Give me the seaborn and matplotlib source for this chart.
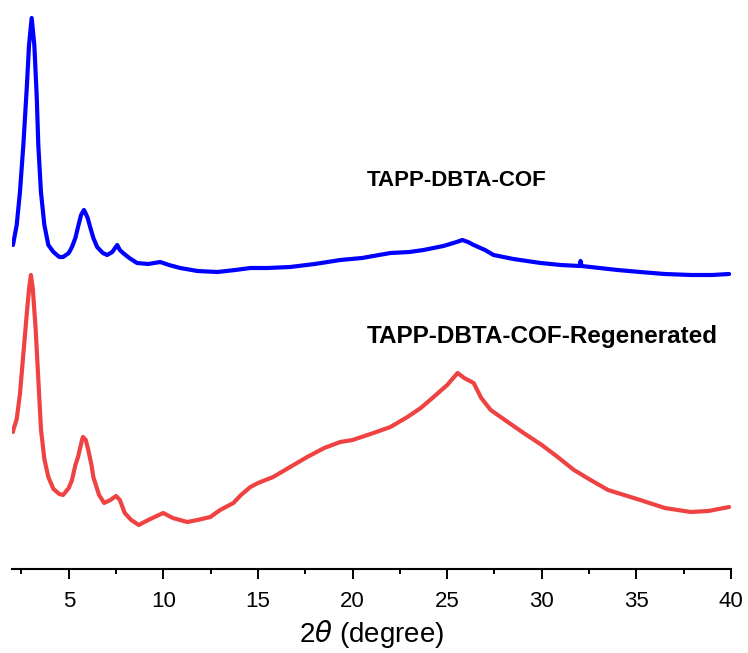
import matplotlib
matplotlib.use("Agg")
import matplotlib.pyplot as plt
import seaborn as sns
import pandas as pd

# 2-theta positions (degree) and intensities (a.u.) of the pristine COF
two_theta_cof = [2.05, 2.07, 2.25, 2.42, 2.60, 2.78, 2.90, 3.04, 3.18, 3.31, 3.39,
                 3.53, 3.71, 3.92, 4.19, 4.5, 4.7, 5.0, 5.17, 5.35, 5.49,
                 5.65, 5.8, 5.86, 6.0, 6.13, 6.3, 6.5, 6.8, 7.03, 7.3, 7.56, 7.7, 7.87,
                 8.2, 8.61, 9.2, 9.83, 10.3, 10.89, 11.8, 12.85, 13.8, 14.6, 15.5, 16.7,
                 18.0, 19.35, 20.5, 22.0, 23.0, 23.75, 24.8, 25.5, 25.8, 26.1, 26.4,
                 27.0, 27.45, 28.5, 29.94, 31.0, 32.0, 32.05, 32.1, 32.58, 34.0, 35.2,
                 36.5, 37.9, 39.0, 39.9]
intensity_cof = [94, 96, 114, 147, 194, 251, 294, 321, 294, 241, 194,
                 147, 114, 94, 87, 82, 82, 86, 92, 101, 112,
                 124, 129, 127, 121, 112, 101, 92, 86, 84, 87, 94, 89, 86,
                 81, 76, 75, 77, 74, 71, 68, 67, 69, 71, 71, 72,
                 75, 79, 81, 86, 87, 89, 93, 97, 99, 97, 94,
                 89, 84, 80, 76, 74, 73, 78, 73, 72, 69, 67,
                 65, 64, 64, 65]

# 2-theta positions (degree) and intensities (a.u.) of the regenerated COF
two_theta_regen = [2.05, 2.07, 2.25, 2.42, 2.60, 2.78, 2.90, 3.0, 3.1, 3.25, 3.39,
                   3.53, 3.71, 3.92, 4.19, 4.5, 4.7, 5.0, 5.17, 5.35, 5.49, 5.7, 5.75,
                   5.9, 6.03, 6.2, 6.3, 6.6, 6.87, 7.2, 7.5, 7.7, 7.96, 8.3, 8.7, 9.2,
                   9.99, 10.5, 11.26, 11.8, 12.48, 13.0, 13.7, 14.1, 14.6, 15.0, 15.8,
                   16.7, 17.6, 18.5, 19.35, 20.0, 21.1, 22.0, 22.9, 23.6, 24.28, 25.0,
                   25.55, 25.9, 26.4, 26.8, 27.3, 28.2, 29.04, 30.0, 30.84, 31.7, 32.58,
                   33.5, 35.2, 36.5, 37.87, 38.8, 39.9]
intensity_regen = [137, 139, 150, 175, 215, 255, 280, 294, 280, 240, 190,
                   140, 110, 92, 80, 75, 74, 81, 89, 104, 112, 129, 132,
                   129, 119, 104, 92, 74, 66, 69, 73, 69, 56, 49, 44, 49,
                   56, 51, 47, 49, 52, 59, 66, 74, 82, 86, 92,
                   102, 112, 121, 127, 129, 136, 142, 152, 161, 172, 184,
                   196, 191, 186, 171, 159, 147, 136, 124, 112, 99, 89,
                   79, 69, 61, 57, 58, 62]

series_names = ["TAPP-DBTA-COF", "TAPP-DBTA-COF-Regenerated"]
x_ticks = [5, 10, 15, 20, 25, 30, 35, 40]

# vertical stacking offset applied to the upper pattern
stack_offset = 230

df = pd.concat([
    pd.DataFrame({"two_theta": two_theta_cof,
                  "intensity": [v + stack_offset for v in intensity_cof],
                  "sample": series_names[0]}),
    pd.DataFrame({"two_theta": two_theta_regen,
                  "intensity": intensity_regen,
                  "sample": series_names[1]}),
])

sns.set_theme(style="white")
plt.rcParams["font.family"] = ["Liberation Sans", "DejaVu Sans"]

fig = plt.figure(figsize=(7.48, 6.53), dpi=100)
ax = fig.add_axes([12 / 748, 84 / 653, 719 / 748, 559 / 653])

palette = {series_names[0]: "#0000FF", series_names[1]: "#EF4343"}
sns.lineplot(data=df, x="two_theta", y="intensity", hue="sample", palette=palette,
             estimator=None, sort=False, linewidth=3.0, legend=False, ax=ax)

ax.set_xlim(2, 40)
ax.set_ylim(0, 559)
ax.set_xticks(x_ticks)
ax.set_xticks([2.5 + 5 * i for i in range(8)], minor=True)
ax.set_xticklabels([str(t) for t in x_ticks], fontsize=16)
ax.set_yticks([])
ax.tick_params(axis="x", which="major", direction="out", length=7.5, width=1.4,
               color="black", pad=8, bottom=True, labelcolor="black")
ax.tick_params(axis="x", which="minor", direction="out", length=3.8, width=1.4,
               color="black", bottom=True)

for side in ["left", "top", "right"]:
    ax.spines[side].set_visible(False)
ax.spines["bottom"].set_color("black")
ax.spines["bottom"].set_linewidth(1.5)

ax.set_xlabel(r"2$\theta$ (degree)", fontsize=20, labelpad=5, color="black")
ax.set_ylabel("")

ax.text(25.5, 388, series_names[0], ha="center", va="center",
        fontsize=16, fontweight="bold", color="black")
ax.text(30.0, 232, series_names[1], ha="center", va="center",
        fontsize=17.5, fontweight="bold", color="black")

fig.savefig("out.png", dpi=100)
